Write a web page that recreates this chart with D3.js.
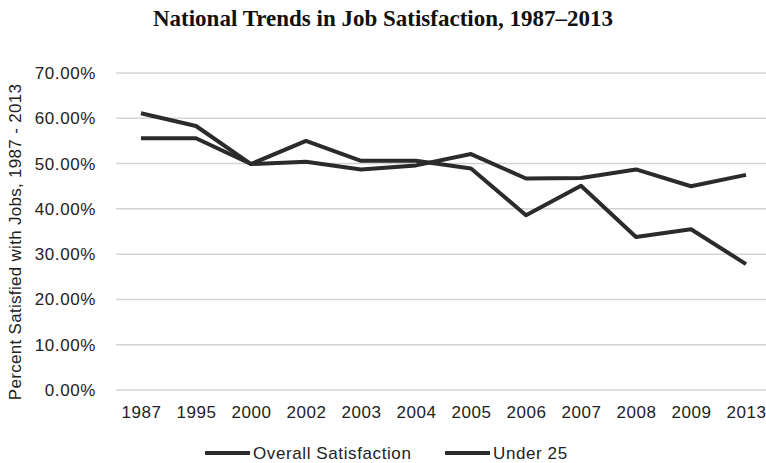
<!DOCTYPE html>
<html>
<head>
<meta charset="utf-8">
<script src="https://cdn.jsdelivr.net/npm/d3@7"></script>
<style>
  body { margin: 0; background: #fff; }
  svg { display: block; }
</style>
</head>
<body>
<svg id="chart" width="766" height="463"></svg>
<script>
// data
const years = ['1987', '1995', '2000', '2002', '2003', '2004', '2005', '2006', '2007', '2008', '2009', '2013'];
const overall = [0.611, 0.583, 0.499, 0.504, 0.487, 0.496, 0.521, 0.467, 0.468, 0.487, 0.450, 0.475];
const under25 = [0.556, 0.556, 0.499, 0.550, 0.506, 0.506, 0.489, 0.386, 0.451, 0.338, 0.355, 0.278];
const yTicks = [0, 0.1, 0.2, 0.3, 0.4, 0.5, 0.6, 0.7];
const seriesNames = ['Overall Satisfaction', 'Under 25'];

const svg = d3.select('#chart');
const font = '"Liberation Sans", Arial, sans-serif';
const lineColor = '#2b2b2b';

const gridLeft = 116, gridRight = 766;

const x = d3.scalePoint().domain(years).range([141, 746]);
const y = d3.scaleLinear().domain([0, 0.7]).range([390, 73]);

// title
svg.append('text')
    .attr('x', 383).attr('y', 26)
    .attr('text-anchor', 'middle')
    .style('font-family', '"Liberation Serif", "Times New Roman", serif')
    .style('font-weight', 'bold')
    .style('font-size', '23px')
    .attr('fill', '#111')
    .text('National Trends in Job Satisfaction, 1987\u20132013');

// gridlines
svg.append('g')
    .selectAll('line')
    .data(yTicks)
    .join('line')
    .attr('x1', gridLeft).attr('x2', gridRight)
    .attr('y1', d => y(d)).attr('y2', d => y(d))
    .attr('stroke', '#d4d4d4')
    .attr('stroke-width', 1.5);

// y axis labels
const yAxis = svg.append('g')
    .attr('transform', `translate(${gridLeft - 20},0)`)
    .call(d3.axisLeft(y).tickValues(yTicks).tickFormat(d3.format('.2%')).tickSize(0).tickPadding(0));
yAxis.select('.domain').remove();
yAxis.selectAll('text')
    .style('font-family', font)
    .style('font-size', '17px')
    .style('letter-spacing', '0.6px')
    .attr('fill', '#222');

// x axis labels
const xAxis = svg.append('g')
    .attr('transform', 'translate(0,406)')
    .call(d3.axisBottom(x).tickSize(0).tickPadding(0));
xAxis.select('.domain').remove();
xAxis.selectAll('text')
    .style('font-family', font)
    .style('font-size', '17px')
    .style('letter-spacing', '0.6px')
    .attr('fill', '#222');

// y axis title
svg.append('text')
    .attr('transform', 'translate(21,242) rotate(-90)')
    .attr('text-anchor', 'middle')
    .style('font-family', font)
    .style('font-size', '17px')
    .style('letter-spacing', '0.3px')
    .attr('fill', '#222')
    .text('Percent Satisfied with Jobs, 1987 - 2013');

// lines
const line = d3.line()
    .x((d, i) => x(years[i]))
    .y(d => y(d));

svg.append('g')
    .selectAll('path')
    .data([overall, under25])
    .join('path')
    .attr('d', line)
    .attr('fill', 'none')
    .attr('stroke', lineColor)
    .attr('stroke-width', 4)
    .attr('stroke-linejoin', 'round');

// legend
const legendX = [205, 445];
const legend = svg.append('g')
    .selectAll('g')
    .data(seriesNames)
    .join('g')
    .attr('transform', (d, i) => `translate(${legendX[i]},453)`);
legend.append('line')
    .attr('x1', 0).attr('x2', 45)
    .attr('stroke', lineColor)
    .attr('stroke-width', 4);
legend.append('text')
    .attr('x', 48).attr('dy', '0.35em')
    .style('font-family', font)
    .style('font-size', '17px')
    .style('letter-spacing', '0.6px')
    .attr('fill', '#222')
    .text(d => d);
</script>
</body>
</html>
